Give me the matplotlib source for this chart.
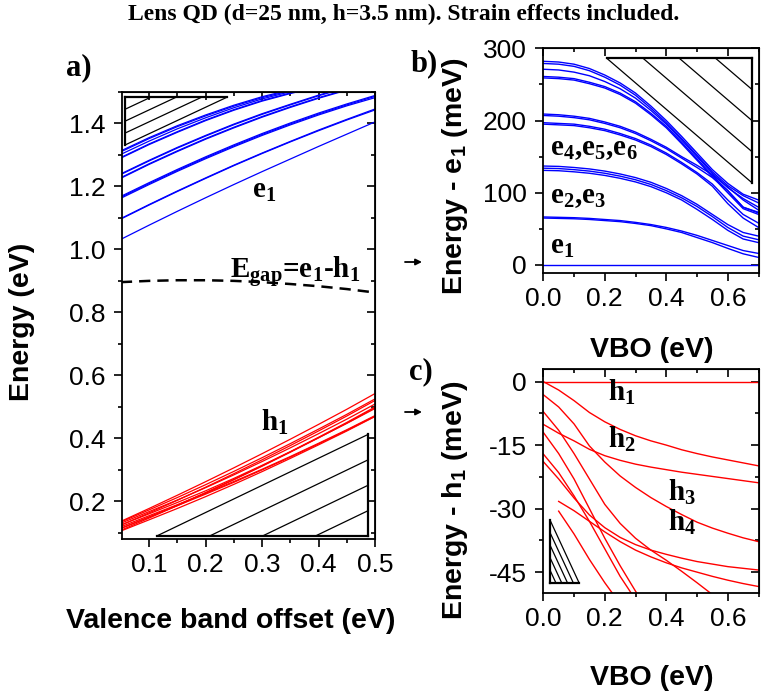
import numpy as np
import matplotlib
matplotlib.use("Agg")
import matplotlib.pyplot as plt
from matplotlib.ticker import MultipleLocator, FormatStrFormatter, NullFormatter

plt.rcParams['font.family'] = ['Liberation Sans', 'DejaVu Sans']
plt.rcParams['axes.unicode_minus'] = False

# ---------------- data ----------------
# valence band offset grid (eV)
VBO = [0.0, 0.05, 0.10, 0.15, 0.20, 0.25, 0.30, 0.35, 0.40, 0.45, 0.50, 0.55, 0.60, 0.65, 0.70]
# panel a: absolute e1 and h1 (eV) on VBO 0.05 ... 0.50
E1_ABS = [1.032, 1.077, 1.121, 1.164, 1.206, 1.247, 1.287, 1.327, 1.366, 1.405]
H1_ABS = [0.136, 0.177, 0.219, 0.262, 0.306, 0.351, 0.397, 0.444, 0.492, 0.542]

# panel b: electron levels relative to e1 (meV)
E_1 = [0] * 15
E_2 = [66.5, 66, 65.5, 64.5, 63, 61.5, 59, 56, 52, 47, 41, 34, 27, 20, 16]
E_3 = [65, 64.5, 64, 63, 61.5, 60, 57.5, 54.5, 50, 45, 38, 31, 23, 15.5, 10.5]
E_4 = [137, 136.5, 135, 133, 130, 126, 121, 114.5, 106, 96, 84, 70, 56, 45, 40]
E_5 = [134, 133.5, 132, 130, 127, 123, 118, 111.5, 103, 93, 81, 67, 52, 40, 35]
E_6 = [131, 130.5, 129, 127, 124, 120, 115, 108.5, 100, 90, 77, 63, 48, 36, 31]
E_7 = [209, 208, 206, 203, 198, 192, 184, 174, 163, 150, 138, 125, 108, 90, 76]
E_8 = [207, 206, 204, 201, 196, 190, 182, 172, 161, 148, 135, 121, 103, 80, 73]
E_9 = [197, 196, 195, 192, 188, 182, 175, 166, 155, 142, 128, 112, 90, 70, 58]
E_10 = [195, 194, 193, 190, 186, 180, 173, 164, 153, 140, 126, 109, 85, 65, 52]
E_11 = [282, 281, 278, 272, 263, 252, 238, 220, 200, 178, 155, 132, 113, 98, 90]
E_12 = [279, 278, 275, 269, 260, 249, 235, 217, 197, 175, 152, 129, 110, 96, 86]
E_13 = [271, 270, 267, 262, 254, 244, 231, 214, 195, 173, 150, 127, 107, 92, 80]
E_14 = [261, 260, 258, 253, 247, 238, 226, 210, 192, 170, 147, 124, 103, 80, 72]
E_15 = [259, 258, 256, 251, 245, 236, 224, 208, 190, 168, 145, 122, 100, 78, 70]

# panel c: hole levels relative to h1 (meV)
H_1 = [0] * 15
H_2 = [0, -2.0, -4.5, -7.3, -9.5, -11.3, -12.8, -14.0, -15.0, -16.1, -17.0, -17.8, -18.5, -19.2, -19.9]
H_3 = [-3.1, -6.0, -10.0, -15.2, -19.0, -22.3, -25.0, -27.4, -29.5, -31.4, -33.2, -34.6, -35.8, -36.9, -37.8]
H_4 = [-7.1, -11.5, -17.0, -23.0, -29.0, -33.5, -37.0, -39.8, -42.2, -44.8, -47.5, -50.3, -53.0, -55.5, -58.0]
H_5 = [-10.1, -12.2, -14.0, -16.0, -17.5, -18.6, -19.5, -20.2, -20.8, -21.4, -21.9, -22.4, -22.9, -23.4, -23.9]
H_6 = [-12.0, -17.0, -23.0, -30.0, -37.0, -43.5, -49.5, -55.0, -60.0, -65.0, -70.0, -74.0, -78.0, -82.0, -86.0]
H_7 = [-17.1, -21.5, -27.0, -33.0, -39.5, -46.0, -51.5, -57.0, -62.0, -67.0, -72.0, -76.0, -80.0, -84.0, -88.0]
H_8 = [-18.9, -23.0, -27.5, -31.5, -34.5, -36.8, -38.5, -39.8, -40.8, -41.7, -42.5, -43.1, -43.7, -44.1, -44.5]
H_9 = [np.nan, -28.3, -30.5, -33.0, -35.5, -37.8, -39.8, -41.4, -42.8, -44.0, -45.0, -46.0, -46.9, -47.7, -48.4]
H_10 = [np.nan, -30.6, -36.0, -42.0, -47.5, -52.5, -57.0, -61.0, -65.0, -69.0, -73.0, -76.0, -79.0, -82.0, -85.0]

ELECTRONS = [E_1, E_2, E_3, E_4, E_5, E_6, E_7, E_8, E_9, E_10, E_11, E_12, E_13, E_14, E_15]
HOLES = [H_1, H_2, H_3, H_4, H_5, H_6, H_7, H_8, H_9, H_10]

# ---------------- figure ----------------
W, H = 761, 700
fig = plt.figure(figsize=(W / 100, H / 100), dpi=100)


def rect(l, t, r, b):
    return [l / W, 1 - b / H, (r - l) / W, (b - t) / H]


axA = fig.add_axes(rect(122, 92, 375, 539))
axB = fig.add_axes(rect(543.3, 48.3, 758.5, 273.3))
axC = fig.add_axes(rect(543.3, 369.3, 758.5, 593.3))

BLUE = '#0000ff'
RED = '#ff0000'
SERIF = 'Liberation Serif'
TICK_FS = 19
LABEL_FS = 20.5
ANN_FS = 21

vbo = np.array(VBO)
sel = slice(1, 11)  # VBO 0.05 .. 0.50 for panel a
e1_abs = np.array(E1_ABS)
h1_abs = np.array(H1_ABS)

# panel a
for e in ELECTRONS:
    axA.plot(vbo[sel], e1_abs + np.array(e, float)[sel] / 1000.0, color=BLUE, lw=0.9)
for h in HOLES:
    axA.plot(vbo[sel], h1_abs + np.array(h, float)[sel] / 1000.0, color=RED, lw=0.9)
axA.plot(vbo[sel], e1_abs - h1_abs, color='black', lw=1.8, ls=(0, (4.5, 2.8)))

# panel b
for e in ELECTRONS:
    axB.plot(vbo, e, color=BLUE, lw=1.0)
# panel c
for h in HOLES:
    axC.plot(vbo, h, color=RED, lw=1.0)


def style(ax, xlim, ylim, xmaj, xmin, ymaj, ymin, xfmt, yfmt):
    ax.set_xlim(*xlim)
    ax.set_ylim(*ylim)
    ax.xaxis.set_major_locator(MultipleLocator(xmaj))
    ax.xaxis.set_minor_locator(MultipleLocator(xmin))
    ax.yaxis.set_major_locator(MultipleLocator(ymaj))
    ax.yaxis.set_minor_locator(MultipleLocator(ymin))
    ax.xaxis.set_major_formatter(FormatStrFormatter(xfmt))
    ax.yaxis.set_major_formatter(FormatStrFormatter(yfmt))
    ax.tick_params(which='both', direction='out', width=1.2, labelsize=TICK_FS, colors='black')
    ax.tick_params(which='major', length=6)
    ax.tick_params(which='minor', length=3.2)
    ax.tick_params(axis='x', pad=4)
    ax.tick_params(axis='y', pad=6)
    for s in ax.spines.values():
        s.set_linewidth(1.3)
    top = ax.secondary_xaxis('top')
    top.xaxis.set_major_locator(MultipleLocator(xmaj))
    top.xaxis.set_minor_locator(MultipleLocator(xmin))
    top.xaxis.set_major_formatter(NullFormatter())
    top.tick_params(which='both', direction='in', width=1.2)
    top.tick_params(which='major', length=6)
    top.tick_params(which='minor', length=3.2)
    right = ax.secondary_yaxis('right')
    right.yaxis.set_major_locator(MultipleLocator(ymaj))
    right.yaxis.set_minor_locator(MultipleLocator(ymin))
    right.yaxis.set_major_formatter(NullFormatter())
    right.tick_params(which='both', direction='in', width=1.2)
    right.tick_params(which='major', length=6)
    right.tick_params(which='minor', length=3.2)


style(axA, (0.052, 0.5), (0.08, 1.5), 0.1, 0.05, 0.2, 0.1, '%.1f', '%.1f')
style(axB, (0.0, 0.7), (-11.5, 300), 0.2, 0.1, 100, 50, '%.1f', '%d')
style(axC, (0.0, 0.7), (-50, 2.9), 0.2, 0.1, 15, 7.5, '%.1f', '%d')


# hatched triangle decorations (axes fractions: right-angle vertex, leg end 1, leg end 2)
def hatched_triangle(ax, R, P, Q, fracs):
    R, P, Q = np.array(R), np.array(P), np.array(Q)
    kw = dict(transform=ax.transAxes, color='black', clip_on=False)
    ax.plot([R[0], P[0]], [R[1], P[1]], lw=1.6, **kw)
    ax.plot([R[0], Q[0]], [R[1], Q[1]], lw=1.6, **kw)
    ax.plot([P[0], Q[0]], [P[1], Q[1]], lw=0.9, **kw)
    for t in fracs:
        a = R + t * (P - R)
        b = R + t * (Q - R)
        ax.plot([a[0], b[0]], [a[1], b[1]], lw=0.9, **kw)


hatched_triangle(axA, (0.0119, 0.988), (0.0119, 0.8814), (0.4138, 0.988), [0.25, 0.5, 0.75])
hatched_triangle(axA, (0.9735, 0.0067), (0.9735, 0.2342), (0.1372, 0.0067), [0.25, 0.5, 0.75])
hatched_triangle(axB, (0.9693, 0.9556), (0.295, 0.9556), (0.9693, 0.4027), [0.25, 0.5, 0.75])
hatched_triangle(axC, (0.0312, 0.0473), (0.0312, 0.327), (0.166, 0.0473), [0.2, 0.4, 0.6, 0.8])

# annotations
ann = dict(fontfamily=SERIF, fontweight='bold', fontsize=ANN_FS, ha='left', va='baseline')
axA.text(0.283, 1.165, r'e$_\mathregular{1}$', **ann)
axA.text(0.243, 0.907, r'E$_\mathregular{gap}$=e$_\mathregular{1}$-h$_\mathregular{1}$', **ann)
axA.text(0.298, 0.4265, r'h$_\mathregular{1}$', **ann)
axB.text(0.022, 152.3, r'e$_\mathregular{4}$,e$_\mathregular{5}$,e$_\mathregular{6}$', **ann)
axB.text(0.022, 85.4, r'e$_\mathregular{2}$,e$_\mathregular{3}$', **ann)
axB.text(0.022, 16.2, r'e$_\mathregular{1}$', **ann)
axC.text(0.211, -4.3, r'h$_\mathregular{1}$', **ann)
axC.text(0.211, -15.4, r'h$_\mathregular{2}$', **ann)
axC.text(0.407, -27.9, r'h$_\mathregular{3}$', **ann)
axC.text(0.407, -35.0, r'h$_\mathregular{4}$', **ann)

# axis labels
lab = dict(fontweight='bold', fontsize=LABEL_FS, ha='center', va='center')
fig.text(22 / W, 1 - 322 / H, 'Energy (eV)', rotation=90, **lab)
fig.text(231 / W, 1 - 621 / H, 'Valence band offset (eV)', **lab)
fig.text(455 / W, 1 - 176 / H, r'Energy - e$_\mathregular{1}$ (meV)', rotation=90, **lab)
fig.text(652 / W, 1 - 350 / H, 'VBO (eV)', **lab)
fig.text(455 / W, 1 - 500 / H, r'Energy - h$_\mathregular{1}$ (meV)', rotation=90, **lab)
fig.text(652 / W, 1 - 678 / H, 'VBO (eV)', **lab)

# small arrows pointing at the y labels of b) and c)
for ypix in (262, 412):
    axA.annotate('', xy=(422, H - ypix), xytext=(405, H - ypix),
                 xycoords='figure pixels', textcoords='figure pixels',
                 arrowprops=dict(arrowstyle='-|>', color='black', lw=1.3,
                                 mutation_scale=9, shrinkA=0, shrinkB=0))

# panel letters and title
pl = dict(fontfamily=SERIF, fontweight='bold', fontsize=22, ha='center', va='center')
fig.text(79 / W, 1 - 68 / H, 'a)', **pl)
fig.text(424 / W, 1 - 64 / H, 'b)', **pl)
fig.text(421 / W, 1 - 372 / H, 'c)', **pl)
fig.text(404 / W, 1 - 14 / H, 'Lens QD (d=25 nm, h=3.5 nm). Strain effects included.',
         fontfamily=SERIF, fontweight='bold', fontsize=17, ha='center', va='center')

fig.savefig('out.png', dpi=100)
